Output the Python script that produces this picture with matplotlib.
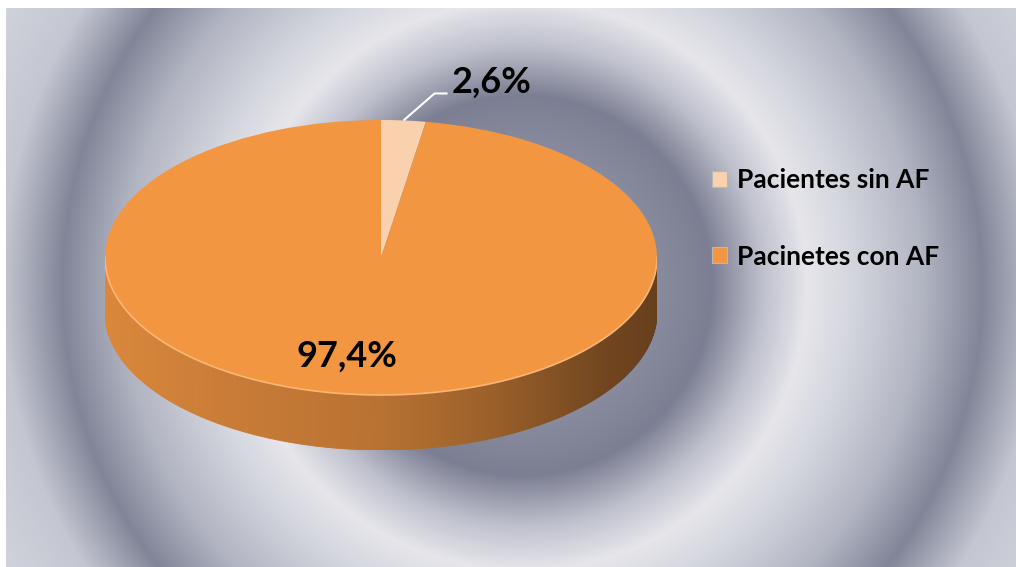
import numpy as np
import matplotlib.pyplot as plt
from matplotlib.patches import Polygon

plt.rcParams['font.family'] = ['Lato', 'DejaVu Sans']

# chart data
categories = ['Pacientes sin AF', 'Pacinetes con AF']
values = [2.6, 97.4]
colors = ['#F9D1AC', '#F39642']

W, H = 1016, 567
fig = plt.figure(figsize=(W / 100, H / 100), dpi=100, facecolor='white')

# concentric ring backdrop
ax_bg = fig.add_axes([0, 0, 1, 1])
yy, xx = np.mgrid[8:H, 6:W]
r = np.hypot(xx - 522, yy - 285)
ring_r = [0, 120, 190, 240, 285, 330, 400, 460, 520, 640]
ring_c = np.array([(150, 153, 168), (140, 143, 160), (124, 127, 147),
                   (190, 192, 204), (230, 230, 235), (212, 214, 222),
                   (178, 181, 194), (130, 133, 152), (196, 199, 209),
                   (218, 220, 227)]) / 255
img = np.dstack([np.interp(r, ring_r, ring_c[:, k]) for k in range(3)])
ax_bg.imshow(img, extent=(6, W, H, 8), interpolation='bilinear')
ax_bg.set_aspect('auto')
ax_bg.set_xlim(0, W)
ax_bg.set_ylim(H, 0)
ax_bg.axis('off')

# pie axes: top face of the disc plus the visible front wall
depth = 0.4
ax = fig.add_axes([105 / W, 117 / H, 552 / W, 330 / H])
wedges, _ = ax.pie(values, colors=colors, startangle=90, counterclock=False,
                   radius=1, wedgeprops=dict(linewidth=0, zorder=3))
ax.set_aspect('auto')
ax.set_xlim(-1, 1)
ax.set_ylim(-1 - depth, 1)
ax.axis('off')

base = np.array(wedges[1].get_facecolor()[:3])
theta = np.linspace(np.pi, 2 * np.pi, 241)
for t0, t1 in zip(theta[:-1], theta[1:]):
    xs = [np.cos(t0), np.cos(t1), np.cos(t1), np.cos(t0)]
    ys = [np.sin(t0), np.sin(t1), np.sin(t1) - depth, np.sin(t0) - depth]
    xm = np.cos((t0 + t1) / 2)
    shade = np.interp(xm, [-1, -0.5, 0, 0.4, 0.8, 1],
                      [0.90, 0.82, 0.76, 0.64, 0.47, 0.42])
    c = base * shade
    ax.add_patch(Polygon(list(zip(xs, ys)), closed=True, facecolor=c,
                         edgecolor=c, linewidth=0.6, zorder=1))
ax.plot(np.cos(theta), np.sin(theta), color='#FBB676', lw=1.2, zorder=4)

# percentage labels
fmt = lambda v: f'{v:.1f}%'.replace('.', ',')
cum = np.cumsum(values)
mid = np.radians(90 - 360 * (cum - np.array(values) / 2) / 100)

ax.annotate(fmt(values[1]), xy=(0.72 * np.cos(mid[1]), 0.72 * np.sin(mid[1])),
            xytext=(-13, 0), textcoords='offset points', ha='center',
            va='center', fontsize=26, fontweight='bold', color='black', zorder=5)

sx, sy = np.cos(mid[0]), np.sin(mid[0])
ex, ey = sx + 31 / 276, sy + 27 / 137.5
fx = ex + 13 / 276
ax.plot([sx, ex, fx], [sy, ey, ey], color='white', lw=1.5, clip_on=False,
        zorder=5, solid_capstyle='butt')
ax.text(fx + 4 / 276, ey + 11 / 137.5, fmt(values[0]), ha='left', va='center',
        fontsize=26, fontweight='bold', color='black', zorder=5)

# legend
leg = fig.legend(wedges, categories, loc='upper left',
                 bbox_to_anchor=(712 / W, 1 - 168 / H), frameon=False,
                 prop=dict(weight='bold', size=19), handlelength=0.55,
                 handleheight=0.55, handletextpad=0.4, labelspacing=2.0,
                 borderpad=0, borderaxespad=0)
for h in leg.legend_handles:
    h.set_edgecolor('#B8B8B8')
    h.set_linewidth(0.8)

fig.savefig('out.png', dpi=100)
